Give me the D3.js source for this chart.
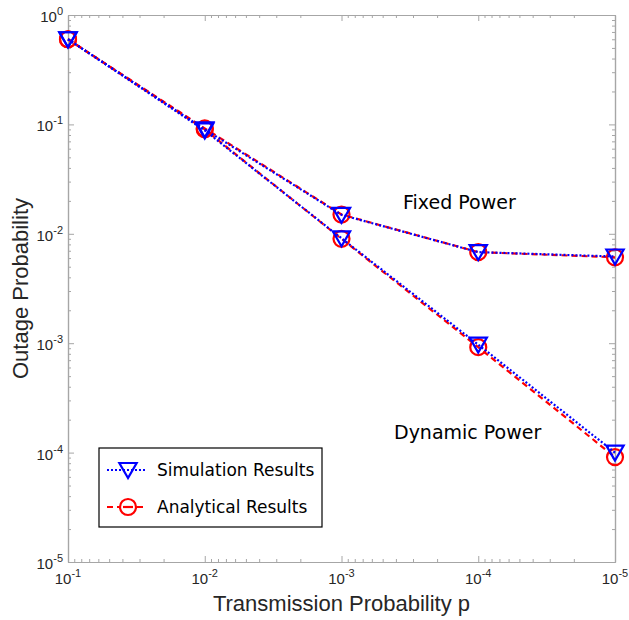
<!DOCTYPE html>
<html>
<head>
<meta charset="utf-8">
<script src="https://cdn.jsdelivr.net/npm/d3@7"></script>
<style>
  body { margin: 0; background: #fff; }
  svg { display: block; }
</style>
</head>
<body>
<div id="chart"></div>
<script>
// data
var pValues = [1e-1, 1e-2, 1e-3, 1e-4, 1e-5];
var simFixed = [0.60, 0.090, 0.0149, 0.0068, 0.0062];
var anaFixed = [0.60, 0.092, 0.0150, 0.0068, 0.0061];
var simDynamic = [0.60, 0.088, 0.0091, 0.00097, 0.000100];
var anaDynamic = [0.60, 0.090, 0.0090, 0.00092, 0.000091];
var xTickExps = [-1, -2, -3, -4, -5];
var yTickExps = [0, -1, -2, -3, -4, -5];

var W = 629, H = 620;
var mLeft = 68, mRight = 615, mTop = 15, mBottom = 562;

var svg = d3.select("#chart").append("svg")
    .attr("width", W).attr("height", H);

var x = d3.scaleLog().domain([1e-1, 1e-5]).range([mLeft, mRight]);
var y = d3.scaleLog().domain([1e-5, 1]).range([mBottom, mTop]);

var axisColor = "#a6a6a6";
var labelColor = "#262626";

// minor tick positions for each decade
function minors(lo, hi) {
    var out = [];
    for (var e = lo; e < hi; e++)
        for (var m = 2; m <= 9; m++) out.push(m * Math.pow(10, e));
    return out;
}
var xMajor = xTickExps.map(function (e) { return Math.pow(10, e); });
var yMajor = yTickExps.map(function (e) { return Math.pow(10, e); });
var xMinor = minors(-5, -1);
var yMinor = minors(-5, 0);

function drawAxis(gen, tr) {
    var g = svg.append("g").attr("transform", tr).call(gen);
    g.select(".domain").attr("stroke", axisColor).attr("stroke-width", 1.2);
    g.selectAll(".tick line").attr("stroke", axisColor);
    g.selectAll("text").remove();
    return g;
}

// ticks inward on all four sides (box)
drawAxis(d3.axisBottom(x).tickValues(xMajor).tickSize(-6).tickSizeOuter(0), "translate(0," + mBottom + ")");
drawAxis(d3.axisBottom(x).tickValues(xMinor).tickSize(-3).tickSizeOuter(0), "translate(0," + mBottom + ")");
drawAxis(d3.axisTop(x).tickValues(xMajor).tickSize(-6).tickSizeOuter(0), "translate(0," + mTop + ")");
drawAxis(d3.axisTop(x).tickValues(xMinor).tickSize(-3).tickSizeOuter(0), "translate(0," + mTop + ")");
drawAxis(d3.axisLeft(y).tickValues(yMajor).tickSize(-6).tickSizeOuter(0), "translate(" + mLeft + ",0)");
drawAxis(d3.axisLeft(y).tickValues(yMinor).tickSize(-3).tickSizeOuter(0), "translate(" + mLeft + ",0)");
drawAxis(d3.axisRight(y).tickValues(yMajor).tickSize(-6).tickSizeOuter(0), "translate(" + mRight + ",0)");
drawAxis(d3.axisRight(y).tickValues(yMinor).tickSize(-3).tickSizeOuter(0), "translate(" + mRight + ",0)");

var font = "Liberation Sans, Arial, sans-serif";

// x tick labels
xTickExps.forEach(function (e) {
    var t = svg.append("text")
        .attr("x", x(Math.pow(10, e))).attr("y", mBottom + 22)
        .attr("text-anchor", "middle")
        .attr("font-family", font).attr("font-size", 15)
        .attr("fill", labelColor);
    t.append("tspan").text("10");
    t.append("tspan").attr("dy", -7).attr("font-size", 11).text(e);
});

// y tick labels
yTickExps.forEach(function (e) {
    var t = svg.append("text")
        .attr("x", mLeft - 5).attr("y", y(Math.pow(10, e)) + 7)
        .attr("text-anchor", "end")
        .attr("font-family", font).attr("font-size", 15)
        .attr("fill", labelColor);
    t.append("tspan").text("10");
    t.append("tspan").attr("dy", -7).attr("font-size", 11).text(e);
});

svg.append("text")
    .attr("x", (mLeft + mRight) / 2).attr("y", 611)
    .attr("text-anchor", "middle")
    .attr("font-family", font).attr("font-size", 22)
    .attr("fill", labelColor)
    .text("Transmission Probability p");

svg.append("text")
    .attr("transform", "translate(28," + (mTop + mBottom) / 2 + ") rotate(-90)")
    .attr("text-anchor", "middle")
    .attr("font-family", font).attr("font-size", 22)
    .attr("fill", labelColor)
    .text("Outage Probability");

var line = d3.line()
    .x(function (d, i) { return x(pValues[i]); })
    .y(function (d) { return y(d); });

var tri = d3.symbol().type(d3.symbolTriangle).size(130);

function drawRed(vals) {
    svg.append("path").datum(vals)
        .attr("d", line).attr("fill", "none")
        .attr("stroke", "#ff0000").attr("stroke-width", 2.2)
        .attr("stroke-dasharray", "6,4");
    svg.append("g").selectAll("circle").data(vals).enter()
        .append("circle")
        .attr("cx", function (d, i) { return x(pValues[i]); })
        .attr("cy", function (d) { return y(d); })
        .attr("r", 8)
        .attr("fill", "none").attr("stroke", "#ff0000").attr("stroke-width", 2.2);
}

function drawBlue(vals) {
    svg.append("path").datum(vals)
        .attr("d", line).attr("fill", "none")
        .attr("stroke", "#0000ff").attr("stroke-width", 2.2)
        .attr("stroke-dasharray", "2,2");
    svg.append("g").selectAll("path").data(vals).enter()
        .append("path")
        .attr("d", tri)
        .attr("transform", function (d, i) {
            return "translate(" + x(pValues[i]) + "," + (y(d) - 2) + ") rotate(180)";
        })
        .attr("fill", "none").attr("stroke", "#0000ff").attr("stroke-width", 2.2);
}

drawRed(anaFixed);
drawRed(anaDynamic);
drawBlue(simFixed);
drawBlue(simDynamic);

var annFont = "DejaVu Sans, Verdana, sans-serif";
svg.append("text").attr("x", 403).attr("y", 209)
    .attr("font-family", annFont).attr("font-size", 19).attr("fill", "#000")
    .text("Fixed Power");
svg.append("text").attr("x", 394).attr("y", 439)
    .attr("font-family", annFont).attr("font-size", 19).attr("fill", "#000")
    .text("Dynamic Power");

// legend
var lg = svg.append("g");
lg.append("rect").attr("x", 99).attr("y", 448).attr("width", 223).attr("height", 79)
    .attr("fill", "#fff").attr("stroke", "#000").attr("stroke-width", 1.2);

var legendItems = [
    { label: "Simulation Results", color: "#0000ff", dash: "2,2", mark: "tri", yy: 470 },
    { label: "Analytical Results", color: "#ff0000", dash: "6,4", mark: "circle", yy: 507 }
];
legendItems.forEach(function (d) {
    lg.append("line").attr("x1", 107).attr("x2", 146).attr("y1", d.yy).attr("y2", d.yy)
        .attr("stroke", d.color).attr("stroke-width", 2.2).attr("stroke-dasharray", d.dash);
    if (d.mark === "tri") {
        lg.append("path").attr("d", tri)
            .attr("transform", "translate(128," + (d.yy - 2) + ") rotate(180)")
            .attr("fill", "none").attr("stroke", d.color).attr("stroke-width", 2.2);
    } else {
        lg.append("circle").attr("cx", 128).attr("cy", d.yy).attr("r", 8)
            .attr("fill", "#fff").attr("stroke", d.color).attr("stroke-width", 2.2);
        lg.append("line").attr("x1", 123).attr("x2", 133).attr("y1", d.yy).attr("y2", d.yy)
            .attr("stroke", d.color).attr("stroke-width", 2.2);
    }
    lg.append("text").attr("x", 157).attr("y", d.yy + 6)
        .attr("font-family", annFont).attr("font-size", 17).attr("fill", "#000")
        .text(d.label);
});
</script>
</body>
</html>
